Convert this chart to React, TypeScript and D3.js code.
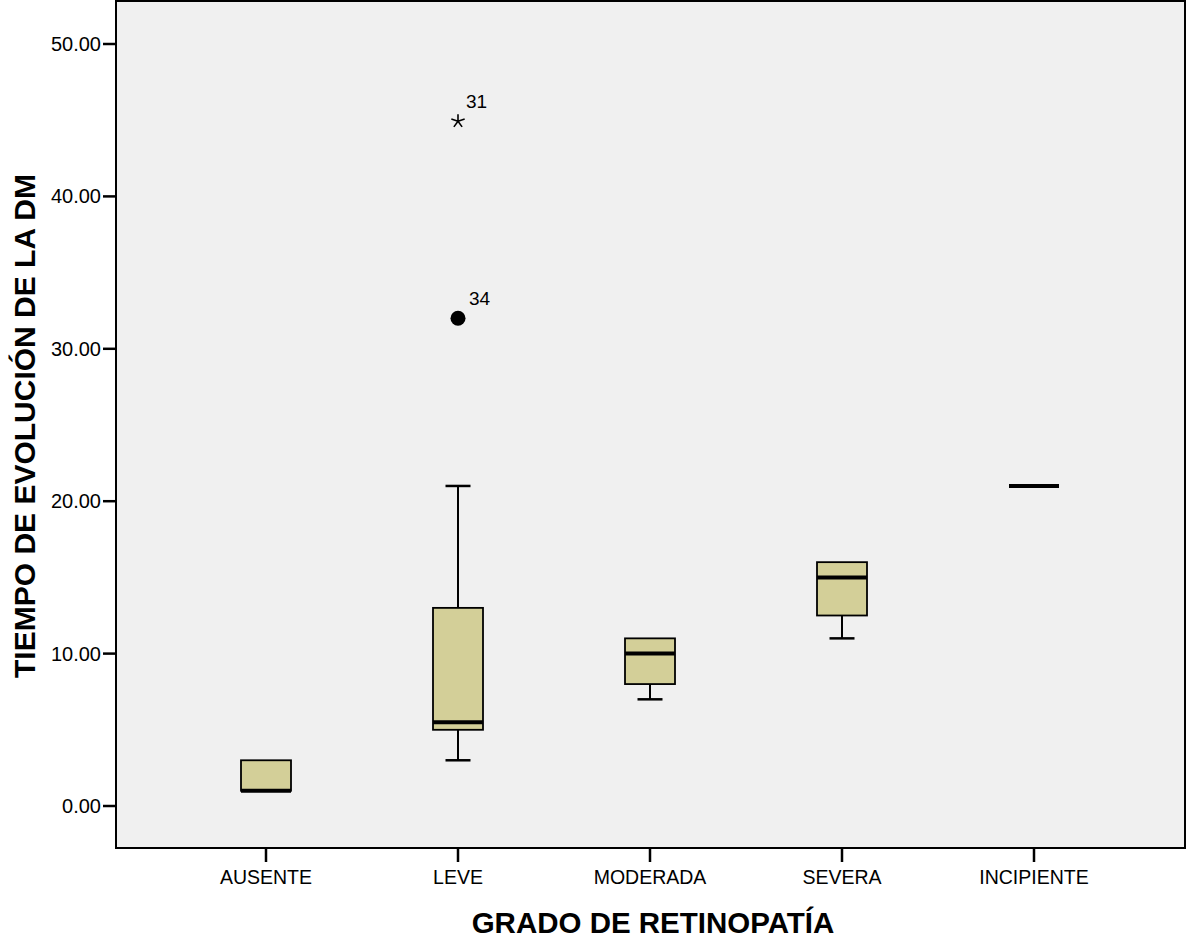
import * as React from 'react';
import * as d3 from 'd3';

const categories = ['AUSENTE', 'LEVE', 'MODERADA', 'SEVERA', 'INCIPIENTE'];
const whiskerLow = [1, 3, 7, 11, 21];
const q1 = [1, 5, 8, 12.5, 21];
const medians = [1, 5.5, 10, 15, 21];
const q3 = [3, 13, 11, 16, 21];
const whiskerHigh = [3, 21, 11, 16, 21];
const outliers = [
	{cat: 'LEVE', value: 32, label: '34', kind: 'circle'},
	{cat: 'LEVE', value: 45, label: '31', kind: 'star'},
];
const yTicks = [0, 10, 20, 30, 40, 50];

const W = 1186, H = 938;
const left = 116, right = 1185, top = 1, bottom = 848;

// 5-armed asterisk, like the SPSS extreme marker
const starPath = (r) => {
	let d = '';
	for (let k = 0; k < 5; k++) {
		const a = -Math.PI / 2 + k * 2 * Math.PI / 5;
		d += `M0,0L${r * Math.cos(a)},${r * Math.sin(a)}`;
	}
	return d;
};

const update = (svgNode) => {
	const svg = d3.select(svgNode);
	svg.html('');

	const x = d3.scalePoint().domain(categories).range([266, 1034]);
	const y = d3.scaleLinear().domain([0, 50]).range([806, 44]);
	const boxW = 50, capW = 25;
	const font = "'Liberation Sans', Arial, sans-serif";

	svg.append('rect')
		.attr('x', left).attr('y', top)
		.attr('width', right - left).attr('height', bottom - top)
		.attr('fill', '#f0f0f0').attr('stroke', '#000').attr('stroke-width', 2);

	// y axis
	const yAxis = svg.append('g').attr('font-family', font);
	yTicks.forEach(t => {
		yAxis.append('line')
			.attr('x1', left - 13).attr('x2', left)
			.attr('y1', y(t)).attr('y2', y(t))
			.attr('stroke', '#000').attr('stroke-width', 2.5);
		yAxis.append('text')
			.attr('x', left - 15).attr('y', y(t) + 7)
			.attr('text-anchor', 'end').attr('font-size', 20)
			.text(d3.format('.2f')(t));
	});

	// x axis
	categories.forEach(c => {
		svg.append('line')
			.attr('x1', x(c)).attr('x2', x(c))
			.attr('y1', bottom).attr('y2', bottom + 14)
			.attr('stroke', '#000').attr('stroke-width', 2.5);
		svg.append('text')
			.attr('x', x(c)).attr('y', bottom + 36)
			.attr('text-anchor', 'middle').attr('font-size', 19.5)
			.attr('font-family', font)
			.text(c);
	});

	// boxes
	categories.forEach((c, i) => {
		const cx = x(c);
		const g = svg.append('g');
		if (whiskerHigh[i] > q3[i]) {
			g.append('line').attr('x1', cx).attr('x2', cx)
				.attr('y1', y(q3[i])).attr('y2', y(whiskerHigh[i]))
				.attr('stroke', '#000').attr('stroke-width', 2);
			g.append('line').attr('x1', cx - capW / 2).attr('x2', cx + capW / 2)
				.attr('y1', y(whiskerHigh[i])).attr('y2', y(whiskerHigh[i]))
				.attr('stroke', '#000').attr('stroke-width', 2.5);
		}
		if (whiskerLow[i] < q1[i]) {
			g.append('line').attr('x1', cx).attr('x2', cx)
				.attr('y1', y(q1[i])).attr('y2', y(whiskerLow[i]))
				.attr('stroke', '#000').attr('stroke-width', 2);
			g.append('line').attr('x1', cx - capW / 2).attr('x2', cx + capW / 2)
				.attr('y1', y(whiskerLow[i])).attr('y2', y(whiskerLow[i]))
				.attr('stroke', '#000').attr('stroke-width', 2.5);
		}
		if (q3[i] > q1[i]) {
			g.append('rect')
				.attr('x', cx - boxW / 2).attr('y', y(q3[i]))
				.attr('width', boxW).attr('height', y(q1[i]) - y(q3[i]))
				.attr('fill', '#d3cf98').attr('stroke', '#000').attr('stroke-width', 1.8);
		}
		g.append('line')
			.attr('x1', cx - boxW / 2).attr('x2', cx + boxW / 2)
			.attr('y1', y(medians[i])).attr('y2', y(medians[i]))
			.attr('stroke', '#000').attr('stroke-width', 4);
	});

	// outliers
	outliers.forEach(o => {
		const cx = x(o.cat), cy = y(o.value);
		if (o.kind === 'circle') {
			svg.append('circle').attr('cx', cx).attr('cy', cy).attr('r', 7.5).attr('fill', '#000');
			svg.append('text').attr('x', cx + 11).attr('y', cy - 13)
				.attr('font-size', 19).attr('font-family', font).text(o.label);
		} else {
			svg.append('path')
				.attr('transform', `translate(${cx},${cy + 1})`)
				.attr('d', starPath(7))
				.attr('fill', 'none').attr('stroke', '#000').attr('stroke-width', 1.6);
			svg.append('text').attr('x', cx + 8).attr('y', cy - 12)
				.attr('font-size', 19).attr('font-family', font).text(o.label);
		}
	});

	// titles
	svg.append('text')
		.attr('x', 653).attr('y', 933)
		.attr('text-anchor', 'middle').attr('font-size', 29.5).attr('font-weight', 'bold')
		.attr('font-family', font)
		.text('GRADO DE RETINOPATÍA');
	svg.append('text')
		.attr('transform', `translate(35,${426}) rotate(-90)`)
		.attr('text-anchor', 'middle').attr('font-size', 30).attr('font-weight', 'bold')
		.attr('font-family', font)
		.text('TIEMPO DE EVOLUCIÓN DE LA DM');
};

export default function App() {
	const ref = React.useRef(null);
	React.useEffect(() => {
		update(ref.current);
	}, []);
	return (
		<svg ref={ref} width={W} height={H}
			style={{position: 'absolute', left: 0, top: 0, background: '#fff'}} />
	);
}
